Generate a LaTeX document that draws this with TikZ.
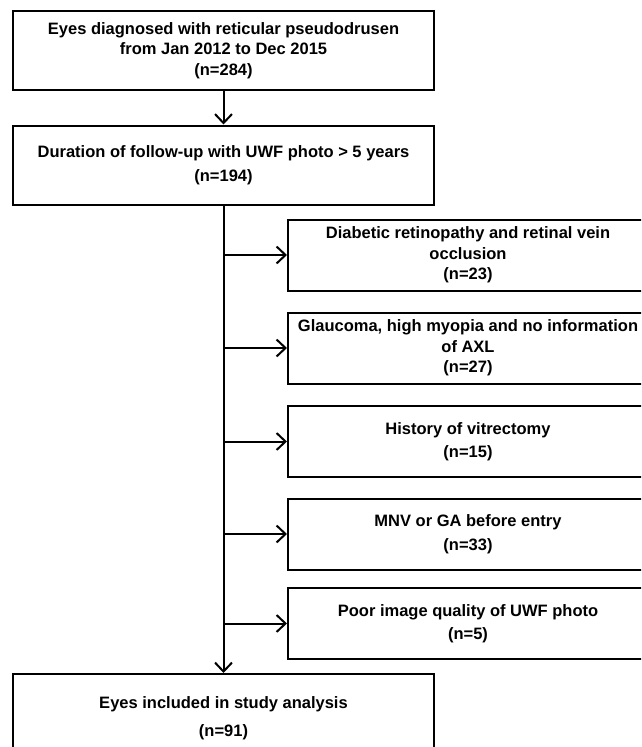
\documentclass[tikz,border=0pt]{standalone}
\usepackage{fontspec}
\setmainfont{Liberation Sans}
\usetikzlibrary{arrows.meta}
\begin{document}
\begin{tikzpicture}[x=1pt, y=-1pt, line width=2pt,
    stagebox/.style={draw, rectangle, align=center, inner sep=0pt,
      font=\bfseries\fontsize{16.5}{20.5}\selectfont},
    flowarrow/.style={-{Straight Barb[length=9pt, width=17pt]}},
  ]
  \useasboundingbox (0,0) rectangle (641,747);
  \clip (0,0) rectangle (641,747);

  \node[stagebox, minimum width=421pt, minimum height=79pt] (diag) at (223.5,50.5)
    {Eyes diagnosed with reticular pseudodrusen\\from Jan 2012 to Dec 2015\\(n=284)};
  \node[stagebox, minimum width=421pt, minimum height=79pt] (fu) at (223.5,165)
    {Duration of follow-up with UWF photo > 5 years\\[4pt](n=194)};
  \node[stagebox, minimum width=421pt, minimum height=88pt] (incl) at (223.5,718)
    {Eyes included in study analysis\\[7pt](n=91)};

  \foreach \name/\y/\txt in {
      dr/255/{Diabetic retinopathy and retinal vein\\occlusion\\(n=23)},
      gl/348/{Glaucoma, high myopia and no information\\of AXL\\(n=27)},
      vit/441.5/{History of vitrectomy\\[3pt](n=15)},
      mnv/534/{MNV or GA before entry\\[3pt](n=33)},
      poor/623.5/{Poor image quality of UWF photo\\[3pt](n=5)}}{
    \node[stagebox, minimum width=360pt, minimum height=71pt] (\name) at (468,\y) {\txt};
  }

  \draw[flowarrow] (diag.south) -- (fu.north);
  \draw[flowarrow] (fu.south) -- (incl.north);
  \foreach \name in {dr,gl,vit,mnv,poor}{
    \draw[flowarrow] (\name.west -| fu.south) -- (\name.west);
  }
\end{tikzpicture}
\end{document}
